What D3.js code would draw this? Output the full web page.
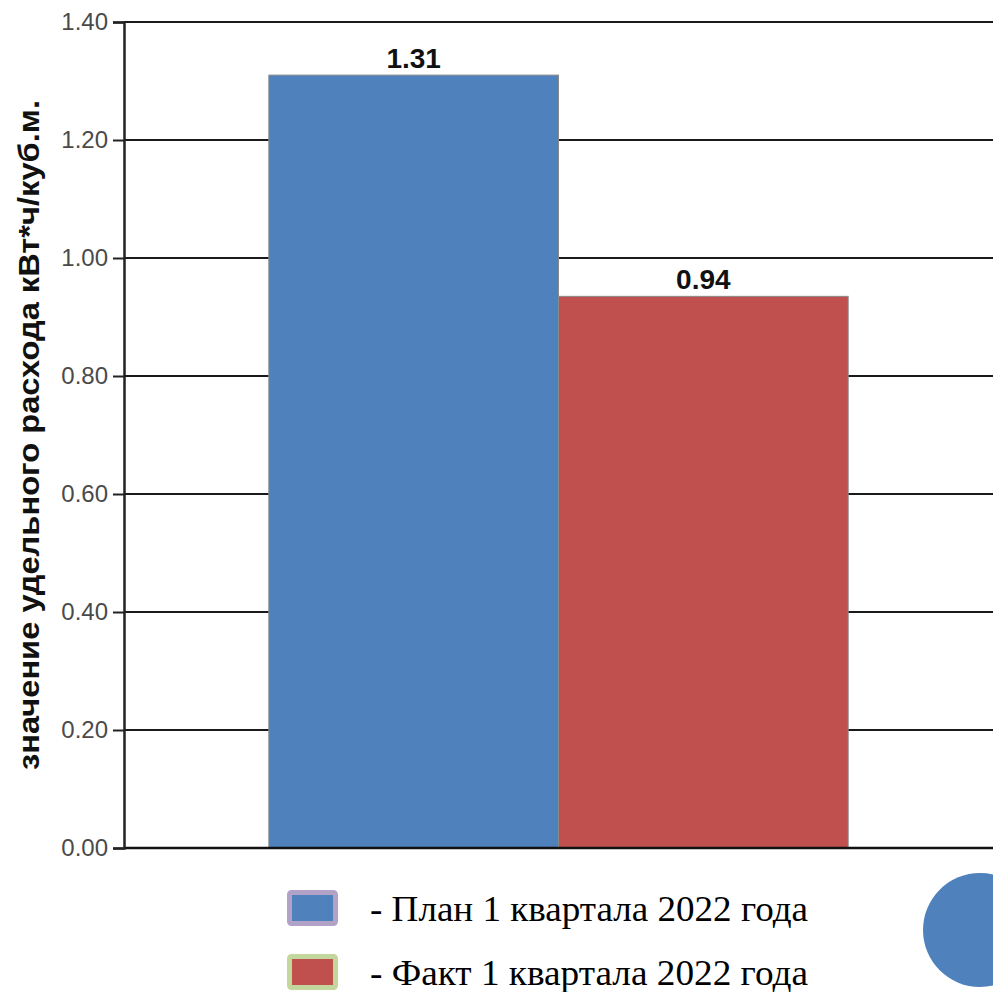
<!DOCTYPE html>
<html lang="ru">
<head>
    <meta charset="UTF-8">
    <title>Удельный расход</title>
    <style>
        body { margin: 0; background: #fff; }
        svg { display: block; }
    </style>
</head>
<body>
    <div id="chart"></div>
    <script src="https://d3js.org/d3.v7.min.js"></script>
    <script>
        // Данные
        const categories = ["План 1 квартала 2022 года", "Факт 1 квартала 2022 года"];
        const values = [1.31, 0.935];
        const barColors = ["#4f81bd", "#c0504d"];
        const legendBorders = ["#b3a2c7", "#c3d69b"];
        const yTicks = [0, 0.2, 0.4, 0.6, 0.8, 1.0, 1.2, 1.4];
        const yLabel = "значение удельного расхода кВт*ч/куб.м.";

        const width = 993, height = 992;
        const margin = { left: 124, top: 22, right: 0, bottom: 144 };

        const svg = d3.select("#chart").append("svg")
            .attr("width", width)
            .attr("height", height);

        const x = d3.scaleBand()
            .domain(categories)
            .range([margin.left, width - margin.right])
            .paddingInner(0)
            .paddingOuter(0.5);

        const y = d3.scaleLinear()
            .domain([0, 1.4])
            .range([height - margin.bottom, margin.top]);

        // Сетка
        svg.append("g")
            .selectAll("line")
            .data(yTicks)
            .join("line")
            .attr("x1", margin.left)
            .attr("x2", width)
            .attr("y1", d => y(d))
            .attr("y2", d => y(d))
            .attr("stroke", "#1a1a1a")
            .attr("stroke-width", 2);

        // Столбцы
        svg.append("g")
            .selectAll("rect")
            .data(values)
            .join("rect")
            .attr("x", (d, i) => x(categories[i]))
            .attr("y", d => y(d))
            .attr("width", x.bandwidth())
            .attr("height", d => y(0) - y(d))
            .attr("fill", (d, i) => barColors[i])
            .attr("stroke", "#8a8a8a")
            .attr("stroke-width", 1);

        // Подписи значений
        svg.append("g")
            .selectAll("text")
            .data(values)
            .join("text")
            .attr("x", (d, i) => x(categories[i]) + x.bandwidth() / 2)
            .attr("y", d => y(d) - 7)
            .attr("text-anchor", "middle")
            .attr("font-family", "Liberation Sans, Arial, sans-serif")
            .attr("font-weight", "bold")
            .attr("font-size", 28)
            .attr("fill", "#111")
            .text(d => d3.format(".2f")(d));

        // Базовая линия
        svg.append("line")
            .attr("x1", margin.left).attr("x2", width)
            .attr("y1", y(0)).attr("y2", y(0))
            .attr("stroke", "#111").attr("stroke-width", 2.5);

        // Ось Y
        const yAxis = svg.append("g")
            .attr("transform", `translate(${margin.left},0)`)
            .call(d3.axisLeft(y).tickValues(yTicks).tickFormat(d3.format(".2f")).tickSize(11).tickPadding(5));
        yAxis.select(".domain").attr("stroke", "#222").attr("stroke-width", 2.5);
        yAxis.selectAll(".tick line").attr("stroke", "#222").attr("stroke-width", 2);
        yAxis.selectAll(".tick text")
            .attr("font-family", "Liberation Sans, Arial, sans-serif")
            .attr("font-size", 24)
            .attr("fill", "#4a4a4a");

        svg.append("text")
            .attr("transform", `translate(39,${(y(0) + y(1.4)) / 2}) rotate(-90)`)
            .attr("text-anchor", "middle")
            .attr("font-family", "Liberation Sans, Arial, sans-serif")
            .attr("font-weight", "bold")
            .attr("font-size", 30)
            .attr("textLength", 670)
            .attr("lengthAdjust", "spacingAndGlyphs")
            .attr("fill", "#111")
            .text(yLabel);

        // Легенда
        const legend = svg.append("g")
            .selectAll("g")
            .data(categories)
            .join("g")
            .attr("transform", (d, i) => `translate(287,${890 + i * 64})`);
        legend.append("rect")
            .attr("x", 2.5).attr("y", 2.5)
            .attr("width", 46).attr("height", 31)
            .attr("rx", 2)
            .attr("fill", (d, i) => barColors[i])
            .attr("stroke", (d, i) => legendBorders[i])
            .attr("stroke-width", 5);
        legend.append("text")
            .attr("x", 83)
            .attr("y", 31)
            .attr("font-family", "Liberation Serif, Times New Roman, serif")
            .attr("font-size", 36)
            .attr("textLength", 438)
            .attr("lengthAdjust", "spacingAndGlyphs")
            .attr("fill", "#000")
            .text(d => "- " + d);

        // Декоративный круг
        svg.append("circle")
            .attr("cx", 980).attr("cy", 930).attr("r", 57)
            .attr("fill", "#4f81bd");
    </script>
</body>
</html>
